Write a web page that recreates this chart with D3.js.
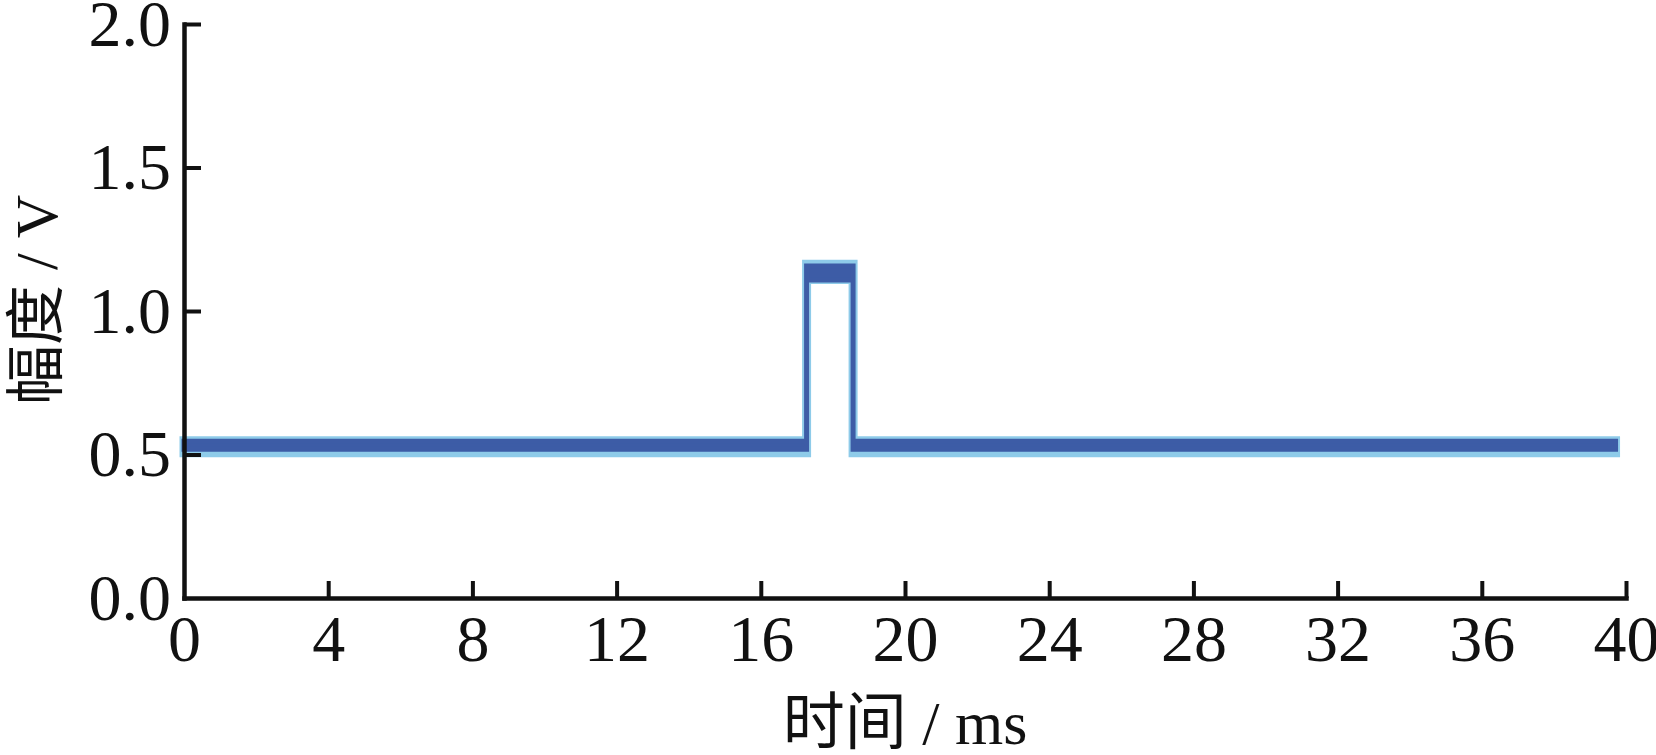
<!DOCTYPE html>
<html>
<head>
<meta charset="utf-8">
<script src="https://cdn.jsdelivr.net/npm/d3@7"></script>
<style>
  html, body { margin: 0; padding: 0; background: #fff; }
  svg { display: block; }
  .tick text { font-family: "Liberation Serif", "Times New Roman", serif; }
</style>
</head>
<body>
<svg id="chart" width="1656" height="755"></svg>
<script>
// ---- data ----
const timeMs   = [0, 17.27, 17.27, 18.56, 18.56, 39.71];
// dark trace envelope (upper / lower) in V
const darkUpper  = [0.546, 0.546, 1.157, 1.157, 0.546, 0.546];
const darkLower  = [0.518, 0.518, 1.108, 1.108, 0.518, 0.518];
// light trace envelope
const lightUpper = [0.548, 0.548, 1.163, 1.163, 0.548, 0.548];
const lightLower = [0.506, 0.506, 1.110, 1.110, 0.506, 0.506];
const xTicks = [0, 4, 8, 12, 16, 20, 24, 28, 32, 36, 40];
const yTicks = [0.0, 0.5, 1.0, 1.5, 2.0];
const xTitle = "时间 / ms";
const yTitle = "幅度 / V";

// ---- layout ----
const svg = d3.select("#chart");
const x = d3.scaleLinear().domain([0, 40]).range([184, 1626]);
const y = d3.scaleLinear().domain([0, 2]).range([598, 24]);

const darkData = timeMs.map((t, i) => ({t, hi: darkUpper[i], lo: darkLower[i]}));
const lightData = timeMs.map((t, i) => ({t, hi: lightUpper[i], lo: lightLower[i]}));

const area = d3.area().x(d => x(d.t)).y0(d => y(d.lo)).y1(d => y(d.hi));

svg.append("path").datum(lightData).attr("d", area)
  .attr("fill", "#8ecbe9").attr("stroke", "#8ecbe9")
  .attr("stroke-width", 9).attr("stroke-linejoin", "miter");
svg.append("path").datum(darkData).attr("d", area)
  .attr("fill", "#3d5ca6").attr("stroke", "#3d5ca6")
  .attr("stroke-width", 5).attr("stroke-linejoin", "miter");

// ---- axes ----
const fontStack = '"Liberation Serif", "Times New Roman", "Noto Sans CJK SC", serif';

const yAxis = d3.axisLeft(y).tickValues(yTicks).tickFormat(d3.format(".1f"))
  .tickSizeInner(-17).tickSizeOuter(0).tickPadding(13);
const gy = svg.append("g").attr("transform", `translate(${x(0)},0)`).call(yAxis);

const xAxis = d3.axisBottom(x).tickValues(xTicks).tickFormat(d3.format("d"))
  .tickSizeInner(-17).tickSizeOuter(0).tickPadding(16);
const gx = svg.append("g").attr("transform", `translate(0,${y(0)})`).call(xAxis);

[gx, gy].forEach(g => {
  g.select(".domain").attr("stroke", "#111").attr("stroke-width", 4.5).attr("stroke-linecap", "square");
  g.selectAll(".tick line").attr("stroke", "#111").attr("stroke-width", 4);
  g.selectAll(".tick text").attr("fill", "#111").style("font-family", fontStack).style("font-size", "66px");
});
gx.select(".tick line").remove(); // 0 tick overlaps axis
gy.selectAll(".tick").filter(d => d === 0).select("line").remove();

// ---- titles ----
svg.append("text")
  .attr("x", 905).attr("y", 744)
  .attr("text-anchor", "middle")
  .style("font-family", fontStack).style("font-size", "62px").attr("fill", "#111")
  .text(xTitle);

svg.append("text")
  .attr("transform", "translate(57,300) rotate(-90)")
  .attr("text-anchor", "middle")
  .style("font-family", fontStack).style("font-size", "60px").attr("fill", "#111")
  .text(yTitle);
</script>
</body>
</html>
